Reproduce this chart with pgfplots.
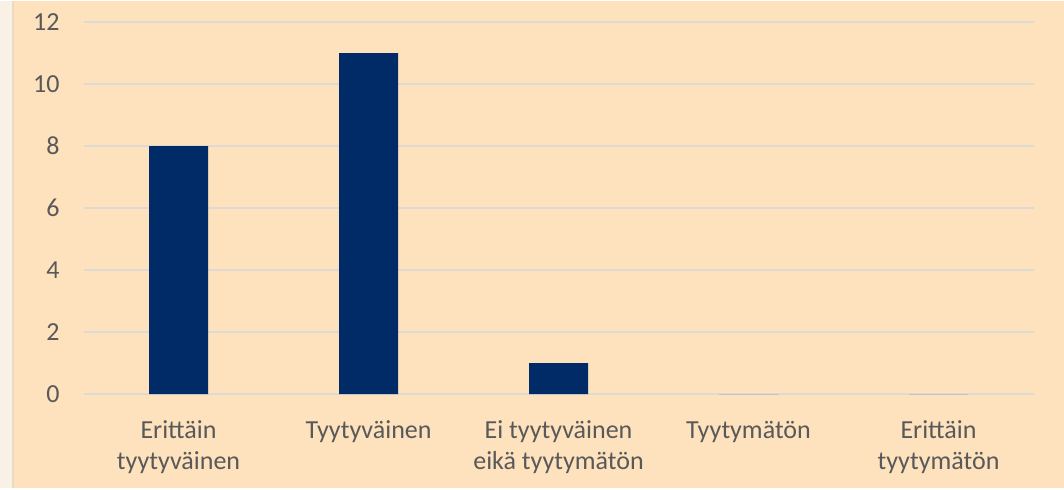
\documentclass[border=0pt]{standalone}
\usepackage{pgfplots}
\pgfplotsset{compat=1.18}
\usepackage{fontspec}
\setmainfont{Carlito}
\definecolor{peach}{HTML}{FDE2BD}
\definecolor{strip}{HTML}{FAF1E6}
\definecolor{stripline}{HTML}{EAD9C3}
\definecolor{navy}{HTML}{002B66}
\definecolor{txt}{HTML}{595959}
\definecolor{gridc}{HTML}{DCDAD2}
\begin{document}
\begin{tikzpicture}
\fill[peach] (0,0) rectangle (532pt,243.5pt);
\fill[strip] (0,0) rectangle (6pt,243.5pt);
\draw[stripline, line width=1pt] (6.5pt,0) -- (6.5pt,243.5pt);
\begin{axis}[
  at={(41.75pt,47pt)}, anchor=south west,
  scale only axis, width=475pt, height=186pt,
  xmin=-0.5, xmax=4.5, ymin=0, ymax=12,
  ytick={0,2,...,12},
  xtick={0,1,2,3,4},
  xticklabels={{Erittäin\\tyytyväinen},{Tyytyväinen},{Ei tyytyväinen\\eikä tyytymätön},{Tyytymätön},{Erittäin\\tyytymätön}},
  axis line style={draw=none},
  major tick length=0pt,
  ymajorgrids, grid style={gridc, line width=1pt},
  tick label style={font=\fontsize{13pt}{15.5pt}\selectfont, text=txt},
  x tick label style={align=center, yshift=-10pt},
  y tick label style={xshift=-8.5pt},
  /pgf/number format/assume math mode=true,
]
\addplot[ybar, bar width=29.5pt, fill=navy, draw=none] coordinates {(0,8) (1,11) (2,1) (3,0) (4,0)};
\end{axis}
\end{tikzpicture}
\end{document}
